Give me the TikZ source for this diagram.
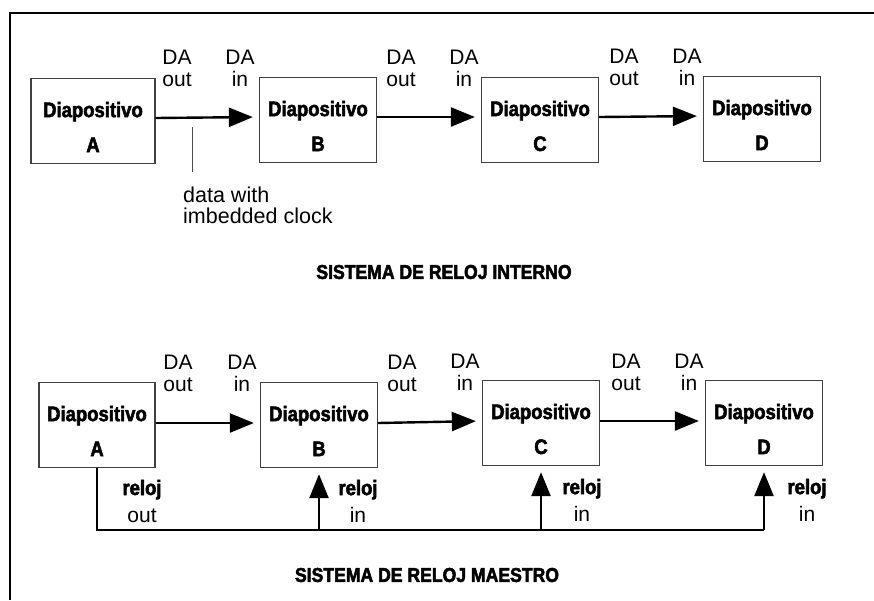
\documentclass[tikz,border=0pt]{standalone}
\usepackage{fontspec}
\setmainfont{Liberation Sans}
\newfontfamily\condfont[FakeStretch=0.88, FakeBold=2.5]{Liberation Sans}
\usetikzlibrary{arrows.meta}

\begin{document}
\begin{tikzpicture}[x=1pt, y=-1pt,
    caixa/.style={draw=black!75, line width=1.3pt, minimum width=117pt, minimum height=85pt, inner sep=0pt},
    nome/.style={font=\condfont\bfseries\fontsize{21}{35}\selectfont, align=center, inner sep=0pt},
    sinal/.style={font=\fontsize{21}{22}\selectfont, align=center, inner sep=0pt},
    relogio/.style={font=\fontsize{21}{27}\selectfont, align=center, inner sep=0pt},
    titulo/.style={font=\condfont\bfseries\fontsize{20}{20}\selectfont, inner sep=0pt},
    fluxo/.style={line width=2.4pt, -{Triangle[length=24pt, width=19pt]}, shorten >=6pt},
    barra/.style={line width=2.4pt}]

        % 1. MOLDURA (limites da figura)
        \useasboundingbox (0,0) rectangle (874,600);
        \draw[line width=2pt] (10,600) -- (10,13) -- (874,13);

        % ==========================================
        % 2. SISTEMA DE RELOJ INTERNO (fila de cima)
        % ==========================================
        \node[caixa, minimum width=124pt] (A1) at (93,121) {};
        \node[caixa] (B1) at (318,120) {};
        \node[caixa] (C1) at (540,120) {};
        \node[caixa] (D1) at (762,119) {};

        \node[nome] (nA1) at ([yshift=-6pt]A1.center) {Diapositivo\\A};
        \node[nome] (nB1) at ([yshift=-6pt]B1.center) {Diapositivo\\B};
        \node[nome] (nC1) at ([yshift=-6pt]C1.center) {Diapositivo\\C};
        \node[nome] (nD1) at ([yshift=-6pt]D1.center) {Diapositivo\\D};

        % Setas de dados entre os dispositivos
        \draw[fluxo] ([yshift=3pt]A1.east) -- ([yshift=3pt]B1.west);
        \draw[fluxo] ([yshift=3pt]B1.east) -- ([yshift=3pt]C1.west);
        \draw[fluxo] ([yshift=3pt]C1.east) -- ([yshift=3pt]D1.west);

        % Rotulos DA out / DA in
        \node[sinal] (oA1) at (177,68) {DA\\out};
        \node[sinal] (iB1) at (240,68) {DA\\in};
        \node[sinal] (oB1) at (401,68) {DA\\out};
        \node[sinal] (iC1) at (464,68) {DA\\in};
        \node[sinal] (oC1) at (624,67) {DA\\out};
        \node[sinal] (iD1) at (687,67) {DA\\in};

        % Nota sobre o relogio embutido
        \coordinate (marca) at (192,127);
        \node[anchor=north west, font=\fontsize{21.5}{20.5}\selectfont, align=left, inner sep=0pt] (nota) at (183,187) {data with\\imbedded clock};
        \draw[line width=0.6pt, black!70] (marca) -- ([yshift=15pt]nota.north -| marca);

        \node[titulo] (t1) at (444,272) {SISTEMA DE RELOJ INTERNO};

        % ==========================================
        % 3. SISTEMA DE RELOJ MAESTRO (fila de baixo)
        % ==========================================
        \node[caixa, minimum width=116pt] (A2) at (97,425) {};
        \node[caixa] (B2) at (319,425) {};
        \node[caixa] (C2) at (541,423) {};
        \node[caixa] (D2) at (764,423) {};

        \node[nome] (nA2) at ([yshift=-6pt]A2.center) {Diapositivo\\A};
        \node[nome] (nB2) at ([yshift=-6pt]B2.center) {Diapositivo\\B};
        \node[nome] (nC2) at ([yshift=-6pt]C2.center) {Diapositivo\\C};
        \node[nome] (nD2) at ([yshift=-6pt]D2.center) {Diapositivo\\D};

        \draw[fluxo] ([yshift=2pt]A2.east) -- ([yshift=2pt]B2.west);
        \draw[fluxo] ([yshift=2pt]B2.east) -- ([yshift=2pt]C2.west);
        \draw[fluxo] ([yshift=2pt]C2.east) -- ([yshift=2pt]D2.west);

        \node[sinal] (oA2) at (178,373) {DA\\out};
        \node[sinal] (iB2) at (242,373) {DA\\in};
        \node[sinal] (oB2) at (402,373) {DA\\out};
        \node[sinal] (iC2) at (465,372) {DA\\in};
        \node[sinal] (oC2) at (626,372) {DA\\out};
        \node[sinal] (iD2) at (689,372) {DA\\in};

        % Barramento do relogio mestre
        \coordinate (bus) at (0,530);
        \draw[barra] (A2.south) |- (D2.south |- bus);
        \draw[fluxo] (B2.south |- bus) -- (B2.south);
        \draw[fluxo] (C2.south |- bus) -- (C2.south);
        \draw[fluxo] (D2.south |- bus) -- (D2.south);

        \node[relogio] (rA) at (142,501) {{\condfont\bfseries\fontsize{21}{27}\selectfont reloj}\\out};
        \node[relogio] (rB) at (358,501) {{\condfont\bfseries\fontsize{21}{27}\selectfont reloj}\\in};
        \node[relogio] (rC) at (582,500) {{\condfont\bfseries\fontsize{21}{27}\selectfont reloj}\\in};
        \node[relogio] (rD) at (807,500) {{\condfont\bfseries\fontsize{21}{27}\selectfont reloj}\\in};

        \node[titulo] (t2) at (427,575) {SISTEMA DE RELOJ MAESTRO};
    \end{tikzpicture}
\end{document}
